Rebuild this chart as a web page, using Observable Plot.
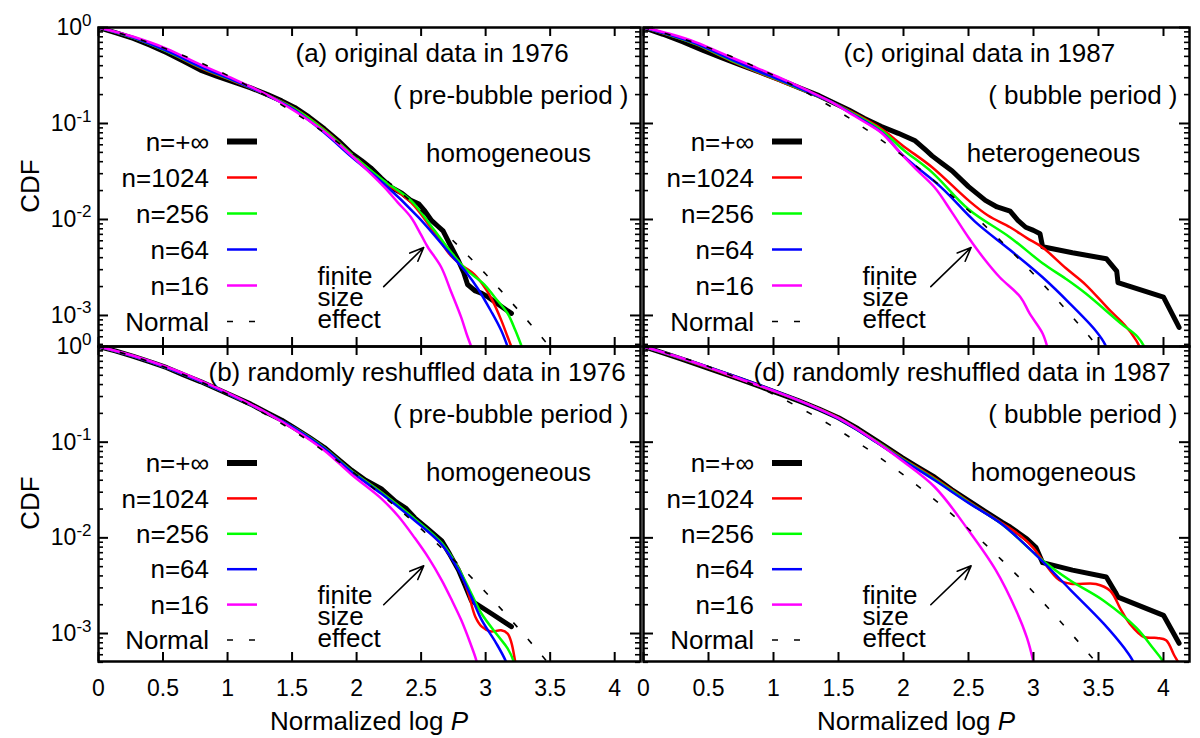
<!DOCTYPE html>
<html><head><meta charset="utf-8">
<script src="https://cdn.jsdelivr.net/npm/d3@7"></script>
<script src="https://cdn.jsdelivr.net/npm/@observablehq/plot@0.6"></script>
<style>
body{margin:0;background:#fff;}
#wrap{position:relative;width:1200px;height:738px;background:#fff;font-family:"Liberation Sans",Arial,sans-serif;overflow:hidden;}
.lab{position:absolute;font-size:26px;color:#000;white-space:nowrap;transform:translate(-50%,-50%);}
.rot{transform:translate(-50%,-50%) rotate(-90deg);}
</style></head><body><div id="wrap"></div>
<script>
// ---------- data ----------
const seriesNames = ["n=+\u221e","n=1024","n=256","n=64","n=16"];
const seriesColors = ["#000000","#ff0000","#00ff00","#0000ff","#ff00ff"];
const normalName = "Normal";
const xTicks = [0,0.5,1,1.5,2,2.5,3,3.5,4];
const yMajor = [1,0.1,0.01,0.001];
const yTickLabels = ["10^0","10^-1","10^-2","10^-3"];
const yMinor = [0.9,0.8,0.7,0.6,0.5,0.4,0.3,0.2,0.09,0.08,0.07,0.06,0.05,0.04,0.03,0.02,0.009,0.008,0.007,0.006,0.005,0.004,0.003,0.002,0.0009,0.0008,0.0007,0.0006,0.0005];

const normalX = [0,0.25,0.5,0.75,1,1.25,1.5,1.75,2,2.25,2.5,2.75,3,3.25,3.5,3.75];
const normalY = [1,0.803,0.617,0.453,0.317,0.211,0.134,0.0801,0.0455,0.0244,0.0124,0.00596,0.0027,0.00115,0.000465,0.000177];

// panel (a) original 1976
const a_inf = [[0,1],[0.13,0.885],[0.27,0.77],[0.4,0.655],[0.53,0.545],[0.66,0.445],[0.79,0.36],[0.92,0.31],[1.05,0.27],[1.18,0.235],[1.31,0.2],[1.42,0.172],[1.52,0.147],[1.63,0.117],[1.75,0.088],[1.86,0.066],[1.96,0.049],[2.04,0.041],[2.11,0.0345],[2.19,0.027],[2.27,0.0215],[2.35,0.0188],[2.42,0.0158],[2.48,0.0146],[2.53,0.0122],[2.58,0.0098],[2.63,0.0085],[2.67,0.0076],[2.72,0.0056],[2.79,0.0037],[2.83,0.0028],[2.86,0.0021],[2.92,0.0018],[2.97,0.0017],[3.02,0.00155],[3.1,0.0013],[3.2,0.00105]];
const a_1024 = [[0,1],[0.27,0.78],[0.53,0.565],[0.79,0.38],[1.05,0.275],[1.31,0.197],[1.52,0.143],[1.75,0.086],[1.96,0.048],[2.2,0.0255],[2.42,0.0152],[2.6,0.0074],[2.73,0.0042],[2.82,0.0033],[2.91,0.0027],[3.0,0.0019],[3.06,0.00137],[3.12,0.0009],[3.17,0.0006],[3.22,0.0004]];
const a_256 = [[0,1],[0.27,0.78],[0.53,0.565],[0.79,0.385],[1.05,0.278],[1.31,0.197],[1.52,0.142],[1.75,0.085],[1.96,0.048],[2.2,0.026],[2.42,0.0158],[2.6,0.0078],[2.73,0.0046],[2.85,0.003],[2.99,0.0021],[3.07,0.00155],[3.17,0.00105],[3.23,0.0007],[3.3,0.0004]];
const a_64 = [[0,1],[0.27,0.785],[0.53,0.57],[0.79,0.39],[1.05,0.28],[1.31,0.196],[1.52,0.138],[1.75,0.08],[1.96,0.045],[2.21,0.0237],[2.48,0.0105],[2.73,0.0043],[2.85,0.0028],[2.94,0.0019],[3.04,0.00112],[3.12,0.0007],[3.19,0.0004]];
const a_16 = [[0,1],[0.27,0.8],[0.53,0.6],[0.79,0.41],[1.05,0.29],[1.31,0.198],[1.52,0.135],[1.75,0.082],[1.96,0.0464],[2.1,0.031],[2.215,0.0217],[2.32,0.015],[2.42,0.0106],[2.5,0.0069],[2.55,0.0052],[2.655,0.0032],[2.73,0.0018],[2.81,0.00096],[2.86,0.0006],[2.91,0.0004]];

// panel (b) reshuffled 1976
const b_inf = [[0,1],[0.13,0.9],[0.27,0.79],[0.4,0.69],[0.53,0.6],[0.66,0.505],[0.79,0.43],[0.92,0.36],[1.05,0.3],[1.18,0.25],[1.31,0.202],[1.42,0.17],[1.52,0.14],[1.63,0.113],[1.75,0.088],[1.86,0.066],[1.96,0.051],[2.07,0.04],[2.19,0.0327],[2.3,0.024],[2.38,0.0205],[2.45,0.0162],[2.55,0.0125],[2.66,0.0093],[2.72,0.0068],[2.79,0.0046],[2.84,0.0032],[2.89,0.0022],[3.05,0.0016],[3.2,0.00118]];
const b_1024 = [[0,1],[0.27,0.79],[0.53,0.6],[0.79,0.43],[1.05,0.3],[1.31,0.2],[1.52,0.14],[1.75,0.087],[1.96,0.05],[2.19,0.03],[2.45,0.0155],[2.66,0.0085],[2.79,0.0048],[2.86,0.0028],[2.92,0.0015],[2.97,0.00118],[3.04,0.00105],[3.12,0.00108],[3.17,0.001],[3.2,0.0008],[3.23,0.0005],[3.26,0.0003]];
const b_256 = [[0,1],[0.27,0.79],[0.53,0.6],[0.79,0.43],[1.05,0.3],[1.31,0.2],[1.52,0.14],[1.75,0.087],[1.96,0.05],[2.19,0.03],[2.45,0.0158],[2.66,0.0088],[2.79,0.0048],[2.89,0.0026],[2.97,0.0016],[3.1,0.00093],[3.17,0.0007],[3.22,0.0005],[3.26,0.0003]];
const b_64 = [[0,1],[0.27,0.79],[0.53,0.6],[0.79,0.43],[1.05,0.3],[1.31,0.2],[1.52,0.14],[1.75,0.086],[1.96,0.049],[2.19,0.029],[2.45,0.0152],[2.66,0.0085],[2.79,0.0046],[2.89,0.0024],[2.97,0.00138],[3.08,0.0008],[3.16,0.0005],[3.21,0.0003]];
const b_16 = [[0,1],[0.27,0.8],[0.53,0.61],[0.79,0.44],[1.05,0.305],[1.31,0.2],[1.52,0.135],[1.75,0.082],[1.96,0.046],[2.19,0.0259],[2.32,0.017],[2.45,0.01],[2.56,0.0061],[2.66,0.0036],[2.74,0.0022],[2.81,0.00139],[2.88,0.0008],[2.93,0.00051],[2.96,0.0003]];

// panel (c) original 1987
const c_inf = [[0,1],[0.15,0.85],[0.3,0.71],[0.45,0.585],[0.6,0.485],[0.75,0.405],[0.9,0.34],[1.05,0.285],[1.2,0.235],[1.35,0.195],[1.45,0.167],[1.58,0.138],[1.7,0.113],[1.83,0.093],[1.96,0.079],[2.09,0.066],[2.17,0.053],[2.22,0.046],[2.3,0.038],[2.375,0.032],[2.5,0.022],[2.63,0.0158],[2.72,0.0135],[2.82,0.0122],[2.88,0.0098],[2.94,0.0083],[3.0,0.0077],[3.05,0.0071],[3.07,0.0052],[3.3,0.0045],[3.56,0.0039],[3.64,0.0029],[3.65,0.0022],[4.0,0.00155],[4.12,0.00075]];
const c_1024 = [[0,1],[0.2,0.83],[0.4,0.67],[0.673,0.45],[0.85,0.355],[1.06,0.272],[1.25,0.215],[1.447,0.167],[1.6,0.132],[1.83,0.088],[2.0,0.058],[2.22,0.035],[2.5,0.0158],[2.65,0.011],[2.82,0.0083],[2.95,0.0064],[3.07,0.0051],[3.25,0.0031],[3.4,0.0021],[3.59,0.00112],[3.7,0.0008],[3.79,0.00055],[3.84,0.0004]];
const c_256 = [[0,1],[0.2,0.835],[0.4,0.675],[0.673,0.455],[0.85,0.36],[1.06,0.276],[1.25,0.216],[1.447,0.167],[1.6,0.13],[1.83,0.085],[2.0,0.053],[2.22,0.031],[2.5,0.0128],[2.82,0.0065],[3.07,0.0035],[3.25,0.0024],[3.4,0.0017],[3.67,0.00083],[3.8,0.0006],[3.86,0.00045],[3.9,0.0003]];
const c_64 = [[0,1],[0.2,0.84],[0.4,0.685],[0.673,0.465],[0.85,0.365],[1.06,0.28],[1.25,0.218],[1.447,0.167],[1.6,0.127],[1.83,0.081],[2.0,0.046],[2.3,0.021],[2.55,0.0095],[2.82,0.0048],[3.07,0.0025],[3.28,0.00133],[3.48,0.00069],[3.55,0.0005],[3.6,0.0003]];
const c_16 = [[0,1],[0.2,0.86],[0.4,0.705],[0.673,0.49],[0.85,0.39],[1.06,0.295],[1.25,0.225],[1.447,0.167],[1.6,0.125],[1.72,0.1],[1.83,0.08],[1.99,0.047],[2.1,0.033],[2.24,0.0215],[2.37,0.012],[2.5,0.0065],[2.62,0.0039],[2.74,0.0025],[2.9,0.00155],[2.97,0.00105],[3.07,0.00065],[3.11,0.00045],[3.14,0.0003]];

// panel (d) reshuffled 1987
const d_inf = [[0,1],[0.15,0.86],[0.3,0.735],[0.45,0.625],[0.6,0.53],[0.75,0.45],[0.9,0.38],[1.05,0.32],[1.2,0.268],[1.35,0.222],[1.5,0.18],[1.65,0.138],[1.8,0.102],[1.99,0.069],[2.1,0.056],[2.24,0.043],[2.37,0.032],[2.5,0.0245],[2.63,0.0188],[2.76,0.0145],[2.82,0.013],[2.89,0.0111],[2.95,0.0097],[3.02,0.0079],[3.07,0.0055],[3.3,0.0046],[3.56,0.0039],[3.63,0.0027],[3.65,0.0024],[4.0,0.00155],[4.12,0.00079]];
const d_1024 = [[0,1],[0.3,0.74],[0.6,0.535],[0.9,0.385],[1.2,0.27],[1.5,0.18],[1.8,0.1],[1.99,0.068],[2.24,0.042],[2.5,0.024],[2.76,0.0142],[2.9,0.0105],[3.0,0.0078],[3.07,0.0058],[3.2,0.0036],[3.3,0.0033],[3.48,0.0033],[3.59,0.0028],[3.67,0.0018],[3.74,0.00127],[3.85,0.00092],[3.95,0.0009],[4.02,0.00085],[4.08,0.0006],[4.13,0.00045],[4.16,0.0003]];
const d_256 = [[0,1],[0.3,0.745],[0.6,0.54],[0.9,0.385],[1.2,0.27],[1.5,0.178],[1.8,0.1],[1.99,0.067],[2.24,0.041],[2.5,0.0235],[2.76,0.0138],[3.07,0.0058],[3.28,0.0036],[3.54,0.0022],[3.79,0.00115],[3.92,0.0007],[4.0,0.0005],[4.05,0.0003]];
const d_64 = [[0,1],[0.3,0.75],[0.6,0.545],[0.9,0.39],[1.2,0.27],[1.5,0.176],[1.8,0.098],[1.99,0.066],[2.24,0.04],[2.5,0.0232],[2.76,0.0138],[3.02,0.0066],[3.28,0.0029],[3.54,0.00127],[3.7,0.0007],[3.77,0.0005],[3.82,0.0003]];
const d_16 = [[0,1],[0.25,0.79],[0.5,0.605],[0.75,0.455],[1.0,0.345],[1.25,0.255],[1.5,0.178],[1.75,0.11],[1.99,0.064],[2.24,0.034],[2.5,0.012],[2.71,0.0046],[2.87,0.0017],[2.95,0.0009],[3.0,0.0005],[3.03,0.0003]];

const panelTitles = ["(a) original data in 1976","(b) randomly reshuffled data in 1976","(c) original data in 1987","(d) randomly reshuffled data in 1987"];
const panelPeriods = ["( pre-bubble period )","( pre-bubble period )","( bubble period )","( bubble period )"];
const panelKinds = ["homogeneous","homogeneous","heterogeneous","homogeneous"];
const effectLabel = "finite\nsize\neffect";
const arrowFrom = [2.21, 0.002];
const arrowTo = [2.52, 0.0051];
const yAxisLabel = "CDF";

// ---------- layout ----------
const panels = [
  {key:"a", series:[a_inf,a_1024,a_256,a_64,a_16], left:98, top:27, width:542, height:319, ymin:4.75e-4, yLabels:true, xLabels:false, titleX:197, legTop:114.5, legStep:36},
  {key:"b", series:[b_inf,b_1024,b_256,b_64,b_16], left:98, top:346, width:542, height:315, ymin:5.1e-4, yLabels:true, xLabels:true, titleX:110, legTop:117, legStep:35.4},
  {key:"c", series:[c_inf,c_1024,c_256,c_64,c_16], left:643, top:27, width:546, height:319, ymin:4.75e-4, yLabels:false, xLabels:false, titleX:200, legTop:114.5, legStep:36},
  {key:"d", series:[d_inf,d_1024,d_256,d_64,d_16], left:643, top:346, width:546, height:315, ymin:5.1e-4, yLabels:false, xLabels:true, titleX:110, legTop:117, legStep:35.4}
];
const FS = 26, TFS = 23;
const FONT = "Liberation Sans, Arial, sans-serif";
const wrap = document.getElementById("wrap");

panels.forEach((P, pi) => {
  const rows = [];
  P.series.forEach((arr, k) => arr.forEach(([x, y]) => rows.push({x, y, s: seriesNames[k]})));
  const blackRows = rows.filter(r => r.s === seriesNames[0]);
  const colorRows = rows.filter(r => r.s !== seriesNames[0]);
  const normRows = normalX.map((x, i) => ({x, y: normalY[i]}));
  const W = P.width, H = P.height;
  const marks = [
    Plot.line(blackRows, {x: "x", y: "y", stroke: seriesColors[0], strokeWidth: 5, clip: true}),
    Plot.line(colorRows, {x: "x", y: "y", z: "s", stroke: "s", strokeWidth: 2.5, curve: "catmull-rom", clip: true}),
    Plot.line(normRows, {x: "x", y: "y", stroke: "#000", strokeWidth: 1.6, strokeDasharray: "6,16", strokeLinecap: "butt", curve: "catmull-rom", clip: true}),
    Plot.arrow([{x1: arrowFrom[0], y1: arrowFrom[1], x2: arrowTo[0], y2: arrowTo[1]}], {x1: "x1", y1: "y1", x2: "x2", y2: "y2", stroke: "#000", strokeWidth: 1.6, headLength: 14, headAngle: 45}),
    Plot.frame({stroke: "#000", strokeWidth: 2.5}),
    Plot.ruleX(xTicks, {x: d => d, stroke: "#000", strokeWidth: 2, insetTop: H - 9}),
    Plot.ruleX(xTicks, {x: d => d, stroke: "#000", strokeWidth: 2, insetBottom: H - 9}),
    Plot.ruleY(yMajor, {y: d => d, stroke: "#000", strokeWidth: 2, insetRight: W - 10}),
    Plot.ruleY(yMajor, {y: d => d, stroke: "#000", strokeWidth: 2, insetLeft: W - 10}),
    Plot.ruleY(yMinor, {y: d => d, stroke: "#000", strokeWidth: 1.6, insetRight: W - 5}),
    Plot.ruleY(yMinor, {y: d => d, stroke: "#000", strokeWidth: 1.6, insetLeft: W - 5}),
    Plot.text([panelTitles[pi]], {text: d => d, frameAnchor: "top-left", textAnchor: "start", lineAnchor: "middle", dx: P.titleX, dy: 26, fontSize: FS}),
    Plot.text([panelPeriods[pi]], {text: d => d, frameAnchor: "top-right", textAnchor: "end", lineAnchor: "middle", dx: -12, dy: 68, fontSize: FS}),
    Plot.text([panelKinds[pi]], {text: d => d, frameAnchor: "top-left", textAnchor: "middle", lineAnchor: "middle", dx: 410, dy: 126, fontSize: FS}),
    Plot.text([effectLabel], {text: d => d, frameAnchor: "top-left", textAnchor: "start", lineAnchor: "middle", dx: 219, dy: 272, fontSize: FS, lineHeight: 0.82})
  ];
  if (P.yLabels) marks.push(Plot.text(yMajor, {y: d => d, text: (d, i) => yTickLabels[i], frameAnchor: "left", textAnchor: "end", lineAnchor: "middle", dx: -7, fontSize: TFS}));
  if (P.xLabels) marks.push(Plot.text(xTicks, {x: d => d, text: d => String(d), frameAnchor: "bottom", lineAnchor: "middle", dy: 27, fontSize: TFS}));
  const svg = Plot.plot({
    width: W, height: H,
    marginLeft: 0, marginRight: 0, marginTop: 0, marginBottom: 0,
    x: {domain: [0, 4.2], axis: null},
    y: {type: "log", domain: [P.ymin, 1], axis: null},
    color: {domain: seriesNames, range: seriesColors},
    style: {background: "transparent", overflow: "visible", fontFamily: FONT, color: "#000"},
    marks
  });
  svg.style.position = "absolute";
  svg.style.left = P.left + "px";
  svg.style.top = P.top + "px";
  svg.style.overflow = "visible";
  // superscript exponents on y tick labels
  d3.select(svg).selectAll("text").each(function() {
    const m = (this.textContent || "").match(/^10\^(.+)$/);
    if (m) {
      this.textContent = "10";
      d3.select(this).append("tspan").attr("dy", "-0.55em").attr("font-size", "17px").text(m[1]);
    }
  });
  // legend
  const g = d3.select(svg).append("g").attr("font-size", FS).attr("font-family", FONT);
  const legNames = seriesNames.concat([normalName]);
  legNames.forEach((nm, i) => {
    const yy = P.legTop + i * P.legStep;
    g.append("text").attr("x", 111).attr("y", yy).attr("dy", "0.35em").attr("text-anchor", "end").attr("fill", "#000").text(nm);
    const ln = g.append("line").attr("x1", 129).attr("x2", 159).attr("y1", yy).attr("y2", yy)
      .attr("stroke", i < 5 ? seriesColors[i] : "#000")
      .attr("stroke-width", i === 0 ? 6 : (i < 5 ? 2.5 : 1.6));
    if (i === 5) ln.attr("stroke-dasharray", "6,16");
  });
  wrap.appendChild(svg);
});

// axis titles (HTML)
function addLabel(html, x, y, cls) {
  const d = document.createElement("div");
  d.className = "lab" + (cls ? " " + cls : "");
  d.style.left = x + "px"; d.style.top = y + "px";
  d.innerHTML = html;
  wrap.appendChild(d);
}
addLabel(yAxisLabel, 30, 186, "rot");
addLabel(yAxisLabel, 30, 503, "rot");
addLabel("Normalized log <i>P</i>", 369, 721);
addLabel("Normalized log <i>P</i>", 916, 721);
</script></body></html>
